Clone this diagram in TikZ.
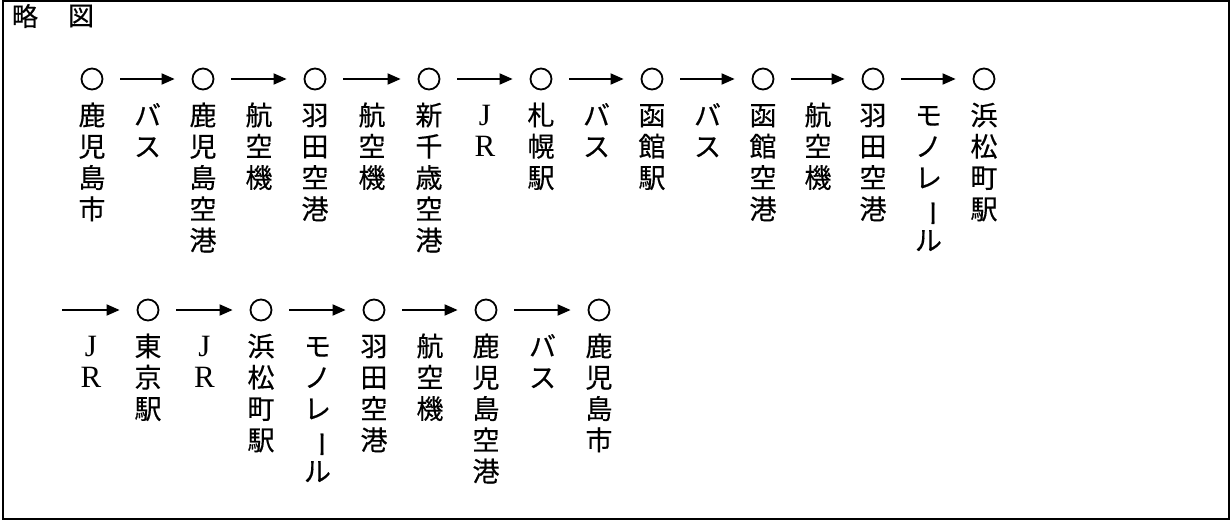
\documentclass[tikz,border=0pt]{standalone}
\usepackage{fontspec}
\newfontfamily\cjk{Noto Sans CJK JP}[FakeBold=0.4]
\newfontfamily\latinserif{Liberation Serif}
\usetikzlibrary{arrows.meta}
\newcommand{\vbar}{\rotatebox[origin=c]{-90}{ー}}
\newcommand{\fst}{\rule{0pt}{24pt}}
\begin{document}
\begin{tikzpicture}[x=1pt,y=-1pt,
  stn/.style={draw,circle,line width=1.8pt,minimum size=21pt,inner sep=0pt},
  lab/.style={anchor=north,inner sep=0pt,align=center,font=\cjk\fontsize{27}{31.3}\selectfont},
  jr/.style={anchor=north,inner sep=0pt,align=center,font=\latinserif\fontsize{31}{31.3}\selectfont},
  ttl/.style={inner sep=0pt,font=\cjk\fontsize{26}{28}\selectfont},
  go/.style={line width=1.8pt,-{Triangle[length=13pt,width=11pt]},shorten <=17pt,shorten >=17pt},
  frame/.style={line width=1.8pt}]
\useasboundingbox (0,0) rectangle (1232,522);
\draw[frame] (3,1) rectangle (1229,519);
% title
\node[ttl] (ryaku) at (25,16) {略};
\node[ttl] (zu) at (81,16) {図};
% ---------- row 1 ----------
\node[stn] (s11) at (92,79) {};
\node[stn] (s12) at (203,79) {};
\node[stn] (s13) at (315,79) {};
\node[stn] (s14) at (429,79) {};
\node[stn] (s15) at (541,79) {};
\node[stn] (s16) at (652,79) {};
\node[stn] (s17) at (763,79) {};
\node[stn] (s18) at (873,79) {};
\node[stn] (s19) at (984,79) {};
\draw[go] (s11) -- (s12);
\draw[go] (s12) -- (s13);
\draw[go] (s13) -- (s14);
\draw[go] (s14) -- (s15);
\draw[go] (s15) -- (s16);
\draw[go] (s16) -- (s17);
\draw[go] (s17) -- (s18);
\draw[go] (s18) -- (s19);
\node[lab] (l11) at (92,101) {\fst 鹿\\児\\島\\市};
\node[lab] (m11) at (147.5,101) {\fst バ\\ス};
\node[lab] (l12) at (203,101) {\fst 鹿\\児\\島\\空\\港};
\node[lab] (m12) at (259,101) {\fst 航\\空\\機};
\node[lab] (l13) at (315,101) {\fst 羽\\田\\空\\港};
\node[lab] (m13) at (372,101) {\fst 航\\空\\機};
\node[lab] (l14) at (429,101) {\fst 新\\千\\歳\\空\\港};
\node[jr] (m14) at (485,101) {\fst J\\R};
\node[lab] (l15) at (541,101) {\fst 札\\幌\\駅};
\node[lab] (m15) at (596.5,101) {\fst バ\\ス};
\node[lab] (l16) at (652,101) {\fst 函\\館\\駅};
\node[lab] (m16) at (707.5,101) {\fst バ\\ス};
\node[lab] (l17) at (763,101) {\fst 函\\館\\空\\港};
\node[lab] (m17) at (818,101) {\fst 航\\空\\機};
\node[lab] (l18) at (873,101) {\fst 羽\\田\\空\\港};
\node[lab] (m18) at (928.5,101) {\fst モ\\ノ\\レ\\\vbar\\ル};
\node[lab] (l19) at (984,101) {\fst 浜\\松\\町\\駅};
% ---------- row 2 ----------
\coordinate (r2) at (62,310);
\node[stn] (s21) at (148,310) {};
\node[stn] (s22) at (261,310) {};
\node[stn] (s23) at (374,310) {};
\node[stn] (s24) at (486,310) {};
\node[stn] (s25) at (599,310) {};
\draw[go,shorten <=0pt] (r2) -- (s21);
\draw[go] (s21) -- (s22);
\draw[go] (s22) -- (s23);
\draw[go] (s23) -- (s24);
\draw[go] (s24) -- (s25);
\node[jr] (m21) at (91,332) {\fst J\\R};
\node[lab] (l21) at (148,332) {\fst 東\\京\\駅};
\node[jr] (m22) at (204.5,332) {\fst J\\R};
\node[lab] (l22) at (261,332) {\fst 浜\\松\\町\\駅};
\node[lab] (m23) at (317.5,332) {\fst モ\\ノ\\レ\\\vbar\\ル};
\node[lab] (l23) at (374,332) {\fst 羽\\田\\空\\港};
\node[lab] (m24) at (430,332) {\fst 航\\空\\機};
\node[lab] (l24) at (486,332) {\fst 鹿\\児\\島\\空\\港};
\node[lab] (m25) at (542.5,332) {\fst バ\\ス};
\node[lab] (l25) at (599,332) {\fst 鹿\\児\\島\\市};
\end{tikzpicture}
\end{document}
